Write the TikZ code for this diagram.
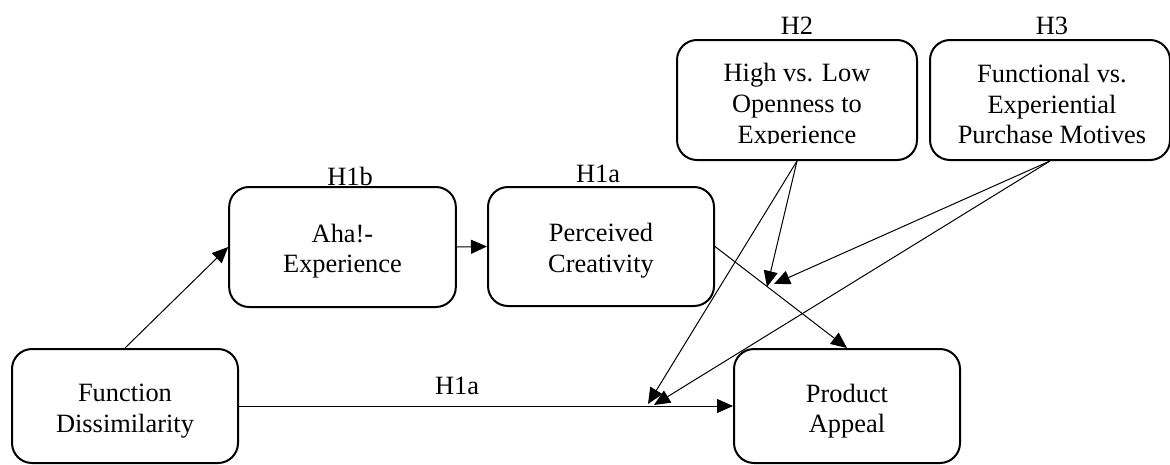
\documentclass[tikz,border=0pt]{standalone}
\usepackage{fontspec}
\setmainfont{Liberation Serif}
\usetikzlibrary{arrows.meta}
\begin{document}
\begin{tikzpicture}[x=0.75pt,y=-0.75pt,
  box/.style={draw,line width=1.5pt,rounded corners=15pt,inner sep=0pt},
  txt/.style={align=center,font=\fontsize{19.8pt}{23pt}\selectfont,inner sep=0pt},
  lbl/.style={font=\fontsize{19.8pt}{23pt}\selectfont,inner sep=0pt},
  arr/.style={line width=0.75pt,-{Triangle[length=12pt,width=10.5pt]}}]
\useasboundingbox (0,0) rectangle (1170,464);
% boxes
\node[box,minimum width=169.5pt,minimum height=85.5pt] (fd) at (125,406) {};
\node[box,minimum width=170pt,minimum height=90pt] (aha) at (342.5,247) {};
\node[box,minimum width=169.5pt,minimum height=89.25pt] (pc) at (601,246.5) {};
\node[box,minimum width=169.5pt,minimum height=85.5pt] (pa) at (847,406) {};
\node[box,minimum width=180pt,minimum height=90pt] (h2) at (797,100) {};
\node[box,minimum width=180pt,minimum height=90pt] (h3) at (1050,100) {};
% box texts
\node[txt] (fdt) at (125,411) {Function\\Dissimilarity};
\node[txt] (ahat) at (342.5,251) {Aha!-\\Experience};
\node[txt] (pct) at (601,251) {Perceived\\Creativity};
\node[txt] (pat) at (847,411) {Product\\Appeal};
\begin{scope}
\clip (677,40) rectangle (917,143);
\node[txt] (h2t) at (797,106) {High vs. Low\\Openness to\\Experience};
\end{scope}
\begin{scope}
\clip (930,40) rectangle (1170,143);
\node[txt] (h3t) at (1052,104) {Functional vs.\\Experiential\\Purchase Motives};
\end{scope}
% labels
\node[lbl] (l2) at (797,26) {H2};
\node[lbl] (l3) at (1052,26) {H3};
\node[lbl] (l1b) at (350,176) {H1b};
\node[lbl] (l1a) at (598,174) {H1a};
\node[lbl] (l1a2) at (457,386) {H1a};
% junction points
\coordinate (m1a) at (767,287);
\coordinate (m1b) at (774,284);
\coordinate (m2a) at (648,404);
\coordinate (m2b) at (654,405);
% connectors
\draw[arr] (fd.north) -- (aha.west);
\draw[arr] (aha.east) -- (pc.west);
\draw[arr] (pc.east) -- (pa.north);
\draw[arr] (fd.east) -- (pa.west);
\draw[arr] (h2.south) -- (m1a);
\draw[arr] (h2.south) -- (m2a);
\draw[arr] (h3.south) -- (m1b);
\draw[arr] (h3.south) -- (m2b);
\end{tikzpicture}
\end{document}
